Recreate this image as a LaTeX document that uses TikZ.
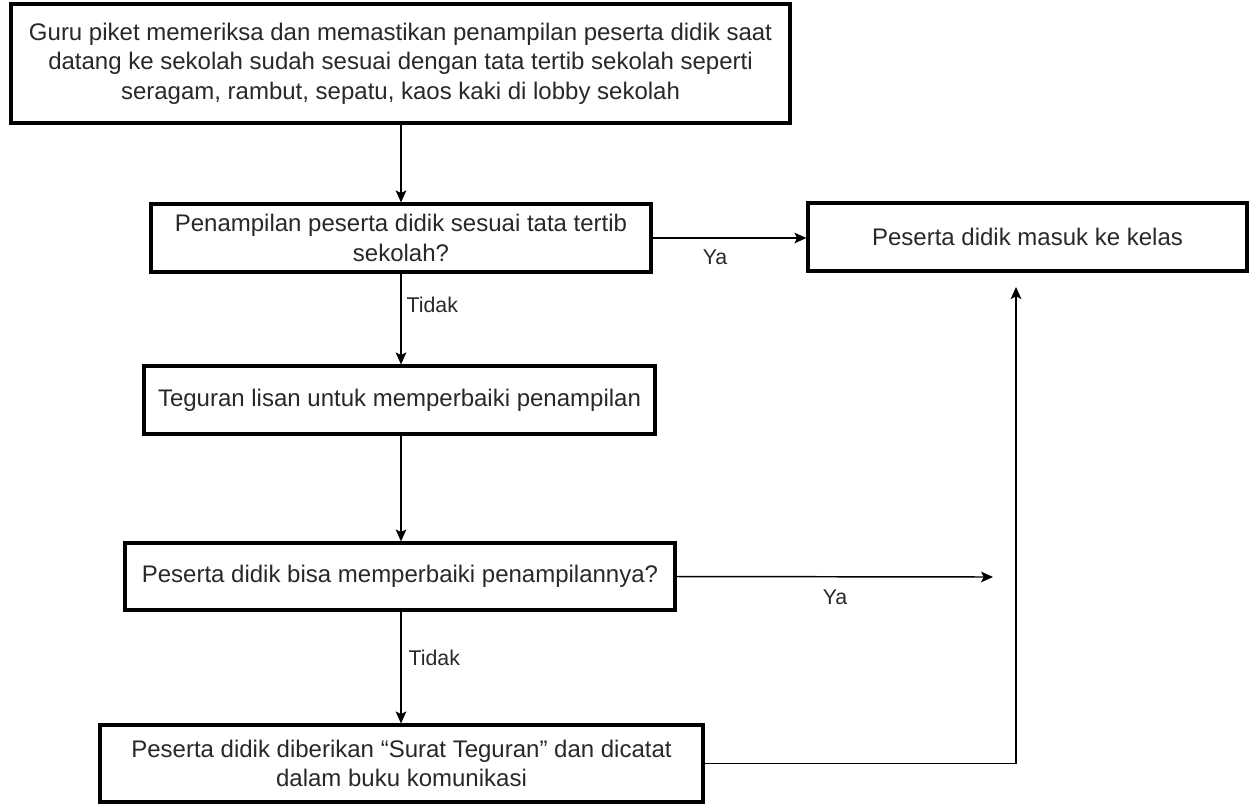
\documentclass[tikz,border=0pt]{standalone}
\usepackage{fontspec}
\setmainfont{Liberation Sans}
\usetikzlibrary{arrows.meta}
\definecolor{txt}{RGB}{40,40,40}
\tikzset{
  box/.style={draw=black, line width=2.4pt, fill=white, align=center, text=txt,
    inner sep=0pt, font=\fontsize{18}{22}\selectfont},
  conn/.style={draw=black, line width=1.1pt, -{Stealth[length=9pt,width=8pt,inset=2pt]}},
  lbl/.style={text=txt, inner sep=1pt, font=\fontsize{16}{19}\selectfont}
}
\begin{document}
\begin{tikzpicture}[x=0.75pt,y=-0.75pt]
\useasboundingbox (0,0) rectangle (1252,804);
% boxes
\node[box, minimum width=779*0.75pt, minimum height=119*0.75pt] (top) at (400.5,63.5)
  {Guru piket memeriksa dan memastikan penampilan peserta didik saat\\
   datang ke sekolah sudah sesuai dengan tata tertib sekolah seperti\\
   seragam, rambut, sepatu, kaos kaki di lobby sekolah};
\node[box, minimum width=500*0.75pt, minimum height=68*0.75pt] (dec) at (401,238)
  {Penampilan peserta didik sesuai tata tertib\\ sekolah?};
\node[box, minimum width=439*0.75pt, minimum height=68*0.75pt] (kelas) at (1027.5,237)
  {Peserta didik masuk ke kelas};
\node[box, minimum width=511*0.75pt, minimum height=68*0.75pt] (teg) at (399.5,400)
  {Teguran lisan untuk memperbaiki penampilan};
\node[box, minimum width=550*0.75pt, minimum height=67*0.75pt] (bisa) at (400,576.5)
  {Peserta didik bisa memperbaiki penampilannya?};
\node[box, minimum width=603*0.75pt, minimum height=77*0.75pt] (surat) at (401.5,763.5)
  {Peserta didik diberikan “Surat Teguran” dan dicatat\\ dalam buku komunikasi};
% free ends
\coordinate (yaend) at (993,577);
\coordinate (upend) at (1016,287);
% connectors
\draw[conn] (top.south -| dec.north) -- (dec.north);
\draw[conn] (dec.east) -- (dec.east -| kelas.west);
\draw[conn] (dec.south) -- (teg.north -| dec.south);
\draw[conn] (teg.south -| dec.south) -- (bisa.north -| dec.south);
\draw[conn] (bisa.east) -- (yaend);
\draw[conn] (bisa.south -| dec.south) -- (surat.north -| dec.south);
\draw[conn] (surat.east) -| (upend);
% labels
\node[lbl] (ya1) at (715,257) {Ya};
\node[lbl, anchor=west] (tidak1) at (405,305) {Tidak};
\node[lbl] (ya2) at (835,597) {Ya};
\node[lbl, anchor=west] (tidak2) at (407,658) {Tidak};
\end{tikzpicture}
\end{document}
